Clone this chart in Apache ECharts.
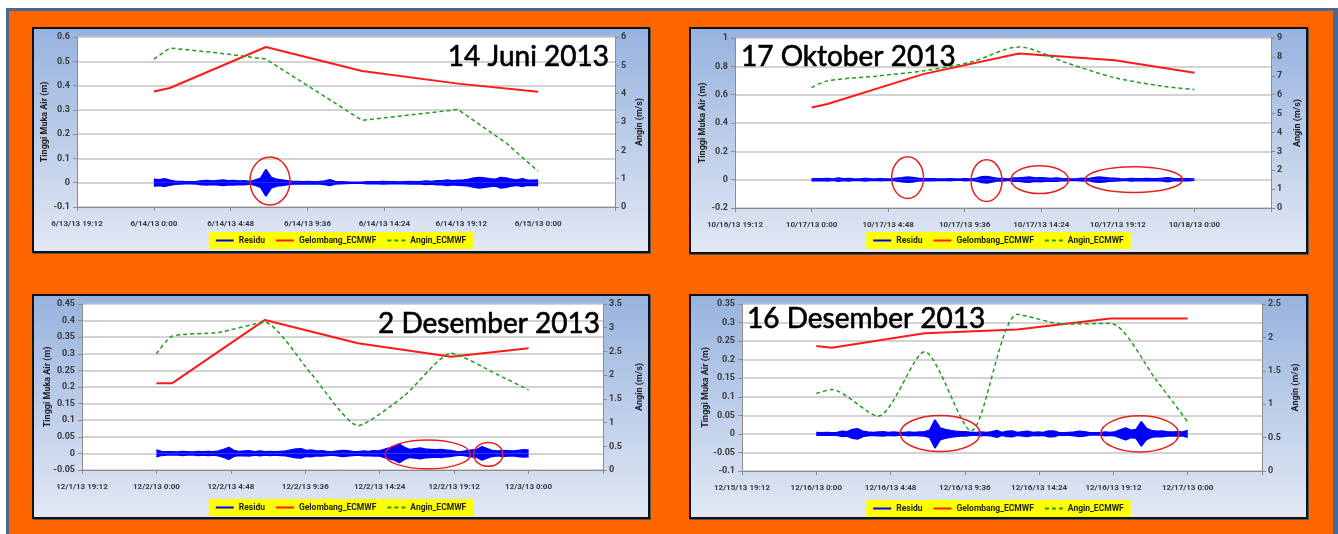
<!DOCTYPE html>
<html>
<head>
<meta charset="utf-8">
<script src="https://cdn.jsdelivr.net/npm/echarts@6/dist/echarts.min.js"></script>
<style>
  body { margin: 0; background: #fff; width: 1338px; height: 534px; overflow: hidden; position: relative; }
  #frame { position: absolute; left: 6px; top: 8px; width: 1324px; height: 540px; background: #ff6600;
           border-left: 3px solid #4a6794; border-top: 3px solid #4a6794; border-right: 5px solid #4a6794; }
  .panel { position: absolute; box-sizing: border-box; border: 2px solid #111; box-shadow: 1px 1px 0 #555; }
</style>
</head>
<body>
<div id="frame"></div>
<div id="p1" class="panel" style="left:32px;top:27px;width:618px;height:226px"></div>
<div id="p2" class="panel" style="left:689px;top:27px;width:619px;height:227px"></div>
<div id="p3" class="panel" style="left:32px;top:294px;width:618px;height:225px"></div>
<div id="p4" class="panel" style="left:689px;top:294px;width:619px;height:225px"></div>
<script>
// sumbu x dalam menit dari pukul 00:00 hari pengamatan
const X_MIN = -288, X_MAX = 1728, X_STEP = 288;
const RESIDU_STEP = 20; // menit antar nilai residu (selubung)

// jam data model
const gelJam = [0, 1, 7, 13, 19, 24];
const anginJam = [0, 1, 4, 7, 10, 13, 16, 19, 22, 24];

// ---- 14 Juni 2013 ----
const ticks1 = ['6/13/13 19:12', '6/14/13 0:00', '6/14/13 4:48', '6/14/13 9:36', '6/14/13 14:24', '6/14/13 19:12', '6/15/13 0:00'];
const gel1 = [0.376, 0.39, 0.559, 0.46, 0.408, 0.375];
const angin1 = [5.22, 5.61, 5.44, 5.22, 4.14, 3.06, 3.25, 3.44, 2.26, 1.26];
const residu1 = [
  0.014, 0.012, 0.016, 0.010, 0.006, 0.005, 0.004, 0.004, 0.005, 0.008, 0.009, 0.007,
  0.009, 0.011, 0.008, 0.009, 0.007, 0.008, 0.005, 0.011, 0.019, 0.055, 0.022, 0.014,
  0.011, 0.008, 0.005, 0.005, 0.004, 0.005, 0.004, 0.005, 0.007, 0.012, 0.005, 0.004,
  0.003, 0.002, 0.002, 0.002, 0.004, 0.004, 0.004, 0.005, 0.004, 0.004, 0.003, 0.004,
  0.005, 0.004, 0.005, 0.007, 0.005, 0.008, 0.008, 0.011, 0.008, 0.010, 0.011, 0.014,
  0.019, 0.022, 0.019, 0.016, 0.014, 0.022, 0.019, 0.014, 0.011, 0.016, 0.011, 0.010,
  0.011
];
const sorot1 = [[7.25, 0.007, 1.25, 0.099]]; // [jam, nilai, lebar jam, tinggi]

// ---- 17 Oktober 2013 ----
const ticks2 = ['10/16/13 19:12', '10/17/13 0:00', '10/17/13 4:48', '10/17/13 9:36', '10/17/13 14:24', '10/17/13 19:12', '10/18/13 0:00'];
const gel2 = [0.51, 0.534, 0.745, 0.89, 0.843, 0.754];
const angin2 = [6.38, 6.73, 6.98, 7.26, 7.73, 8.52, 7.68, 6.9, 6.45, 6.27];
const residu2 = [
  0.007, 0.007, 0.006, 0.009, 0.005, 0.012, 0.006, 0.009, 0.005, 0.005, 0.009, 0.006,
  0.005, 0.007, 0.005, 0.005, 0.010, 0.014, 0.019, 0.016, 0.010, 0.007, 0.006, 0.007,
  0.005, 0.005, 0.007, 0.004, 0.004, 0.007, 0.004, 0.010, 0.020, 0.023, 0.016, 0.008,
  0.009, 0.005, 0.012, 0.012, 0.016, 0.019, 0.012, 0.014, 0.012, 0.009, 0.012, 0.008,
  0.007, 0.005, 0.006, 0.010, 0.006, 0.014, 0.019, 0.016, 0.012, 0.010, 0.007, 0.005,
  0.009, 0.007, 0.006, 0.008, 0.007, 0.006, 0.010, 0.014, 0.008, 0.007, 0.006, 0.007,
  0.005
];
const sorot2 = [[6.02, 0.014, 1.0, 0.147], [10.97, -0.007, 0.97, 0.147], [14.3, 0, 1.8, 0.098], [20.2, 0, 3.05, 0.091]];

// ---- 2 Desember 2013 ----
const ticks3 = ['12/1/13 19:12', '12/2/13 0:00', '12/2/13 4:48', '12/2/13 9:36', '12/2/13 14:24', '12/2/13 19:12', '12/3/13 0:00'];
const gel3 = [0.211, 0.211, 0.402, 0.3315, 0.291, 0.317];
const angin3 = [2.45, 2.82, 2.9, 3.11, 2.02, 0.935, 1.57, 2.46, 2.01, 1.69];
const residu3 = [
  0.010, 0.006, 0.005, 0.005, 0.004, 0.006, 0.005, 0.004, 0.006, 0.005, 0.006, 0.005,
  0.007, 0.012, 0.018, 0.009, 0.006, 0.007, 0.008, 0.005, 0.007, 0.005, 0.006, 0.005,
  0.006, 0.007, 0.010, 0.013, 0.014, 0.009, 0.010, 0.007, 0.008, 0.006, 0.005, 0.007,
  0.009, 0.008, 0.006, 0.005, 0.007, 0.006, 0.008, 0.007, 0.012, 0.016, 0.020, 0.028,
  0.018, 0.012, 0.014, 0.016, 0.013, 0.012, 0.011, 0.012, 0.010, 0.009, 0.006, 0.005,
  0.008, 0.010, 0.012, 0.020, 0.014, 0.009, 0.007, 0.009, 0.008, 0.007, 0.009, 0.011,
  0.010
];
const sorot3 = [[17.5, -0.003, 2.75, 0.0436], [21.4, -0.003, 0.94, 0.036]];

// ---- 16 Desember 2013 ----
const ticks4 = ['12/15/13 19:12', '12/16/13 0:00', '12/16/13 4:48', '12/16/13 9:36', '12/16/13 14:24', '12/16/13 19:12', '12/17/13 0:00'];
const gel4 = [0.2366, 0.232, 0.271, 0.2816, 0.311, 0.311];
const angin4 = [1.16, 1.22, 0.82, 1.785, 0.6, 2.345, 2.2, 2.21, 1.35, 0.735];
const residu4 = [
  0.004, 0.003, 0.004, 0.003, 0.004, 0.007, 0.006, 0.012, 0.014, 0.007, 0.005, 0.004,
  0.005, 0.006, 0.004, 0.005, 0.004, 0.004, 0.005, 0.004, 0.005, 0.006, 0.010, 0.038,
  0.016, 0.012, 0.009, 0.007, 0.006, 0.006, 0.004, 0.004, 0.005, 0.004, 0.006, 0.009,
  0.004, 0.007, 0.008, 0.004, 0.006, 0.007, 0.004, 0.005, 0.004, 0.008, 0.008, 0.004,
  0.003, 0.004, 0.005, 0.007, 0.006, 0.003, 0.003, 0.003, 0.005, 0.004, 0.006, 0.011,
  0.016, 0.010, 0.012, 0.033, 0.015, 0.009, 0.007, 0.008, 0.006, 0.005, 0.006, 0.005,
  0.009
];
const sorot4 = [[8.0, 0.001, 2.58, 0.0486], [20.9, 0, 2.52, 0.0486]];

const panels = [
  { id: 'p1', ticks: ticks1, gel: gel1, angin: angin1, residu: residu1, sorot: sorot1, yL: [-0.1, 0.6, 0.1], yR: [0, 6, 1],
    grid: { left: 43, top: 8, width: 538, height: 170 }, title: '14 Juni 2013', titleAt: [575, 28, 'right'],
    gapL: 28, gapR: 20, legendTop: 203, smooth: false },
  { id: 'p2', ticks: ticks2, gel: gel2, angin: angin2, residu: residu2, sorot: sorot2, yL: [-0.2, 1, 0.2], yR: [0, 9, 1],
    grid: { left: 44, top: 9, width: 536, height: 170 }, title: '17 Oktober 2013', titleAt: [50, 28, 'left'],
    gapL: 28, gapR: 22, legendTop: 203, smooth: 0.3 },
  { id: 'p3', ticks: ticks3, gel: gel3, angin: angin3, residu: residu3, sorot: sorot3, yL: [-0.05, 0.45, 0.05], yR: [0, 3.5, 0.5],
    grid: { left: 48, top: 8, width: 521, height: 166 }, title: '2 Desember 2013', titleAt: [566, 28, 'right'],
    gapL: 30, gapR: 32, legendTop: 203, smooth: 0.2 },
  { id: 'p4', ticks: ticks4, gel: gel4, angin: angin4, residu: residu4, sorot: sorot4, yL: [-0.1, 0.35, 0.05], yR: [0, 2.5, 0.5],
    grid: { left: 51, top: 8, width: 520, height: 167 }, title: '16 Desember 2013', titleAt: [56, 23, 'left'],
    gapL: 32, gapR: 29, legendTop: 204, smooth: 0.25 }
];

const FONT = 'Lato';
const SMALL_FONT = 'Roboto';
const labelStyle = { fontSize: 8, fontWeight: 'bold', color: '#3a3a3a', fontFamily: SMALL_FONT };
const nameStyle = { fontSize: 9, fontWeight: 'bold', color: '#222', fontFamily: SMALL_FONT };

// ikon legenda: garis penuh dan garis putus-putus
const ICON_LINE = 'path://M0,0h18v2h-18z';
const ICON_DASH = 'path://M0,0h4v2h-4z M7,0h4v2h-4z M14,0h4v2h-4z';

function toPairs(jam, vals) {
  return jam.map((j, i) => [j * 60, vals[i]]);
}

function residuPairs(vals, sign) {
  return vals.map((v, i) => [i * RESIDU_STEP, sign * v]);
}

function buildOption(p) {
  const residuStyle = {
    name: 'Residu', type: 'line', symbol: 'none', silent: true,
    lineStyle: { color: '#0000ff', width: 1.5 },
    areaStyle: { color: '#0000ff', opacity: 1 },
    itemStyle: { color: '#0000ff' }
  };
  const axisY = {
    type: 'value', nameLocation: 'middle', nameRotate: 90, nameMoveOverlap: false,
    nameTextStyle: nameStyle,
    axisLine: { show: true, onZero: false, lineStyle: { color: '#8c8c8c' } },
    axisTick: { show: true, length: 4, lineStyle: { color: '#8c8c8c' } }
  };
  return {
    animation: false,
    backgroundColor: new echarts.graphic.LinearGradient(0, 0, 0, 1, [
      { offset: 0, color: '#97b3df' },
      { offset: 1, color: '#e2e8f4' }
    ]),
    textStyle: { fontFamily: FONT },
    grid: Object.assign({ show: true, backgroundColor: '#ffffff', borderWidth: 0, containLabel: false, outerBoundsMode: 'none' }, p.grid),
    legend: {
      top: p.legendTop, left: 'center',
      data: [
        { name: 'Residu', icon: ICON_LINE },
        { name: 'Gelombang_ECMWF', icon: ICON_LINE },
        { name: 'Angin_ECMWF', icon: ICON_DASH }
      ],
      backgroundColor: '#ffff00', borderRadius: 0, padding: [4, 7],
      itemWidth: 18, itemHeight: 2, itemGap: 11,
      textStyle: { fontSize: 8.5, fontWeight: 'bold', color: '#222', fontFamily: SMALL_FONT }
    },
    xAxis: {
      type: 'value', min: X_MIN, max: X_MAX, interval: X_STEP,
      axisLine: { onZero: false, lineStyle: { color: '#8c8c8c', width: 1 } },
      axisTick: { show: true, length: 4, lineStyle: { color: '#8c8c8c' } },
      splitLine: { show: false },
      axisLabel: Object.assign({}, labelStyle, {
        margin: 13,
        formatter: function (v) {
          const idx = Math.round((v - X_MIN) / X_STEP);
          return p.ticks[idx] || '';
        }
      })
    },
    yAxis: [
      Object.assign({}, axisY, {
        min: p.yL[0], max: p.yL[1], interval: p.yL[2],
        name: 'Tinggi Muka Air (m)', nameGap: p.gapL,
        splitLine: { show: true, lineStyle: { color: '#c4c4c4', width: 1.5 } },
        axisLabel: Object.assign({}, labelStyle, { fontSize: 9, margin: 7 })
      }),
      Object.assign({}, axisY, {
        position: 'right', min: p.yR[0], max: p.yR[1], interval: p.yR[2],
        name: 'Angin (m/s)', nameGap: p.gapR,
        splitLine: { show: false },
        axisLabel: Object.assign({}, labelStyle, { fontSize: 9, margin: 6 })
      })
    ],
    graphic: [{
      type: 'text', x: p.titleAt[0], y: p.titleAt[1], z: 100,
      style: {
        text: p.title, fontSize: 28, fontFamily: FONT, fill: '#000', stroke: '#000', lineWidth: 0.6,
        align: p.titleAt[2], verticalAlign: 'middle'
      }
    }],
    series: [
      Object.assign({}, residuStyle, { data: residuPairs(p.residu, 1) }),
      Object.assign({}, residuStyle, { data: residuPairs(p.residu, -1) }),
      {
        name: 'Gelombang_ECMWF', type: 'line', symbol: 'none',
        lineStyle: { color: '#ff1a1a', width: 2 }, itemStyle: { color: '#ff1a1a' },
        data: toPairs(gelJam, p.gel)
      },
      {
        name: 'Angin_ECMWF', type: 'line', symbol: 'none', yAxisIndex: 1, smooth: p.smooth,
        lineStyle: { color: '#1c9e1c', width: 1.5, type: [4, 3] }, itemStyle: { color: '#1c9e1c' },
        data: toPairs(anginJam, p.angin)
      },
      {
        // lingkaran merah penanda kejadian
        name: 'sorot', type: 'custom', silent: true, z: 5,
        encode: { x: 0, y: 1 },
        data: p.sorot.map(s => [s[0] * 60, s[1], s[2] * 60, s[3]]),
        renderItem: function (params, api) {
          const c = api.coord([api.value(0), api.value(1)]);
          const s = api.size([api.value(2), api.value(3)]);
          return {
            type: 'ellipse',
            shape: { cx: c[0], cy: c[1], rx: s[0], ry: s[1] },
            style: { fill: 'none', stroke: '#e8201c', lineWidth: 1.5 }
          };
        }
      }
    ]
  };
}

panels.forEach(p => {
  const chart = echarts.init(document.getElementById(p.id), null, { renderer: 'canvas' });
  chart.setOption(buildOption(p));
});
</script>
</body>
</html>
